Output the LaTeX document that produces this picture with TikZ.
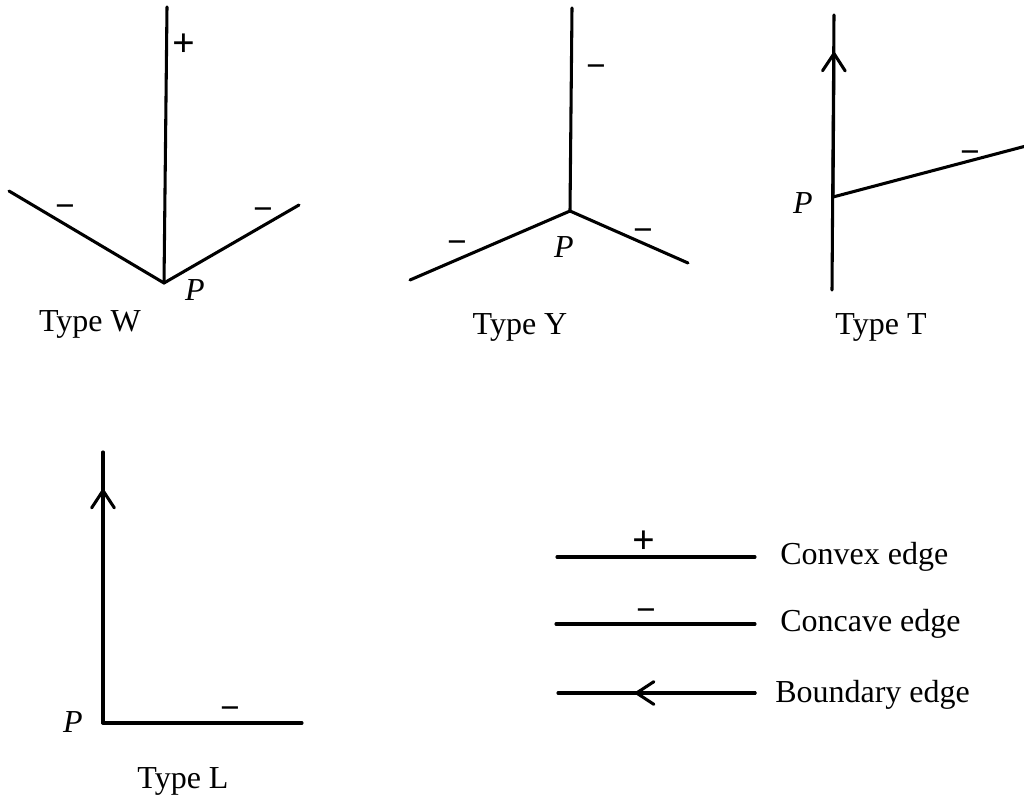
\documentclass[tikz,border=0pt]{standalone}
\usepackage{fontspec}
\setmainfont{Liberation Serif}
\usetikzlibrary{arrows.meta}
\begin{document}
\begin{tikzpicture}[x=0.75pt,y=-0.75pt,
  edge/.style={line width=2.3pt, line cap=round, line join=round},
  barb/.style={edge, -{Straight Barb[length=13pt,width=17pt,line cap=round,line join=round]}},
  lbl/.style={font=\fontsize{24}{28}\selectfont, inner sep=0pt},
  sign/.style={font=\fontsize{26}{28}\selectfont\bfseries, inner sep=0pt},
  plussign/.style={font=\fontsize{30}{32}\selectfont\bfseries, inner sep=0pt},
  pt/.style={font=\fontsize{24}{28}\selectfont\itshape, inner sep=0pt}]
\useasboundingbox (0,0) rectangle (1024,803);
% ---------- Type W ----------
\coordinate (Wp) at (164,283);
\coordinate (Wt) at (167,7);
\coordinate (Wl) at (9,191);
\coordinate (Wr) at (299,205);
\draw[edge] (Wp) -- (Wt);
\draw[edge] (Wl) -- (Wp) -- (Wr);
\node[plussign] (Wplus) at (184,45) {+};
\node[sign] (Wm1) at (65,211) {−};
\node[sign] (Wm2) at (263,214) {−};
\node[pt] (WP) at (195,290) {P};
\node[lbl, anchor=base] (WT) at (90,331) {Type W};
% ---------- Type Y ----------
\coordinate (Yp) at (570,211);
\coordinate (Yt) at (572,8);
\coordinate (Yl) at (410,280);
\coordinate (Yr) at (688,263);
\draw[edge] (Yp) -- (Yt);
\draw[edge] (Yl) -- (Yp) -- (Yr);
\node[sign] (Ym1) at (596,71) {−};
\node[sign] (Ym2) at (457,247) {−};
\node[sign] (Ym3) at (643,235) {−};
\node[pt] (YP) at (564,247) {P};
\node[lbl, anchor=base] (YT) at (520,334) {Type Y};
% ---------- Type T ----------
\coordinate (Tp) at (833,197);
\coordinate (Tt) at (834,15);
\coordinate (Tb) at (832,290);
\coordinate (Ta) at (834,52);
\coordinate (Tr) at (1026,146);
\draw[edge] (Tb) -- (Tt);
\draw[barb] (Tp) -- (Ta);
\draw[edge] (Tp) -- (Tr);
\node[sign] (Tm) at (970,157) {−};
\node[pt] (TP) at (803,203) {P};
\node[lbl, anchor=base] (TT) at (881,334) {Type T};
% ---------- Type L ----------
\coordinate (Lp) at (103,723);
\coordinate (Lt) at (103,452);
\coordinate (La) at (103,489);
\coordinate (Lr) at (302,723);
\draw[edge] (Lt) -- (Lp) -- (Lr);
\draw[barb] (Lp) -- (La);
\node[sign] (Lm) at (230,713) {−};
\node[pt] (LP) at (73,722) {P};
\node[lbl, anchor=base] (LT) at (183,788) {Type L};
% ---------- Legend ----------
\coordinate (c1) at (557,557);
\coordinate (c2) at (755,557);
\coordinate (k1) at (556,624);
\coordinate (k2) at (755,624);
\coordinate (b1) at (558,693);
\coordinate (b2) at (755,693);
\coordinate (ba) at (635,693);
\draw[edge] (c1) -- (c2);
\draw[edge] (k1) -- (k2);
\draw[edge] (b1) -- (b2);
\draw[barb] (b2) -- (ba);
\node[plussign] (cplus) at (644,542) {+};
\node[sign] (kmin) at (646,615) {−};
\node[lbl, anchor=base west] (ct) at (780,564) {Convex edge};
\node[lbl, anchor=base west] (kt) at (780,631) {Concave edge};
\node[lbl, anchor=base west] (bt) at (775,702) {Boundary edge};
\end{tikzpicture}
\end{document}
